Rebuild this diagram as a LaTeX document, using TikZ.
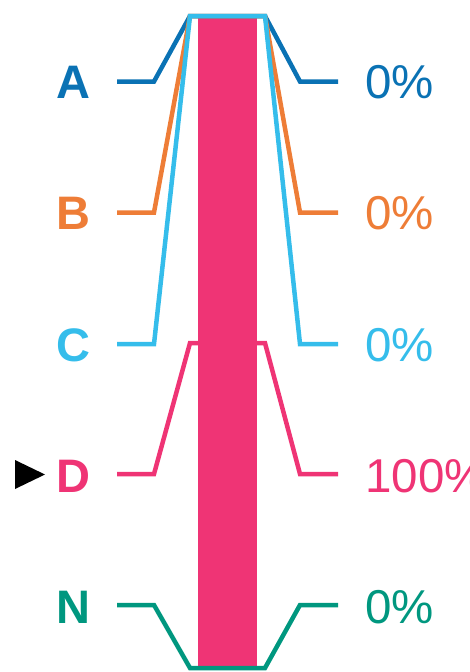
\documentclass[tikz,border=0pt]{standalone}
\usepackage{fontspec}
\setmainfont{Liberation Sans}
\definecolor{cA}{HTML}{0A72B4}
\definecolor{cB}{HTML}{EE7D37}
\definecolor{cC}{HTML}{35BDEB}
\definecolor{cD}{HTML}{EF3475}
\definecolor{cN}{HTML}{00977F}
\begin{document}
\begin{tikzpicture}[x=1pt,y=-1pt,
  trace/.style={line width=4.5pt,line join=miter},
  lbl/.style={inner sep=0pt,anchor=base east,font=\fontsize{47}{47}\selectfont\bfseries},
  pct/.style={inner sep=0pt,anchor=base west,font=\fontsize{47.5}{47.5}\selectfont}]
\useasboundingbox (0,0) rectangle (469,672);
% bar
\fill[cD] (198,17) rectangle (257,668);
% rows
\foreach \n/\y/\t/\c in {A/81.5/16/cA, B/212.5/16/cB, C/344/16/cC, D/474/343/cD, N/605/668/cN}{
  \coordinate (l\n) at (117,\y);
  \coordinate (lk\n) at (154,\y);
  \coordinate (tl\n) at (190,\t);
  \coordinate (tr\n) at (265,\t);
  \coordinate (rk\n) at (300,\y);
  \coordinate (r\n) at (338,\y);
  \draw[trace,\c] (l\n) -- (lk\n) -- (tl\n) -- (tr\n) -- (rk\n) -- (r\n);
}
\node[lbl,text=cA] (tA) at (91,98) {A};
\node[lbl,text=cB] (tB) at (91,229) {B};
\node[lbl,text=cC] (tC) at (91,361) {C};
\node[lbl,text=cD] (tD) at (91,492) {D};
\node[lbl,text=cN] (tN) at (91,623) {N};
\node[pct,text=cA] (pA) at (365,98) {0\%};
\node[pct,text=cB] (pB) at (365,229) {0\%};
\node[pct,text=cC] (pC) at (365,361) {0\%};
\node[pct,text=cD] (pD) at (365,492) {100\%};
\node[pct,text=cN] (pN) at (365,623) {0\%};
% marker
\fill[black] (15,460) -- (45,474.5) -- (15,489) -- cycle;
\end{tikzpicture}
\end{document}
